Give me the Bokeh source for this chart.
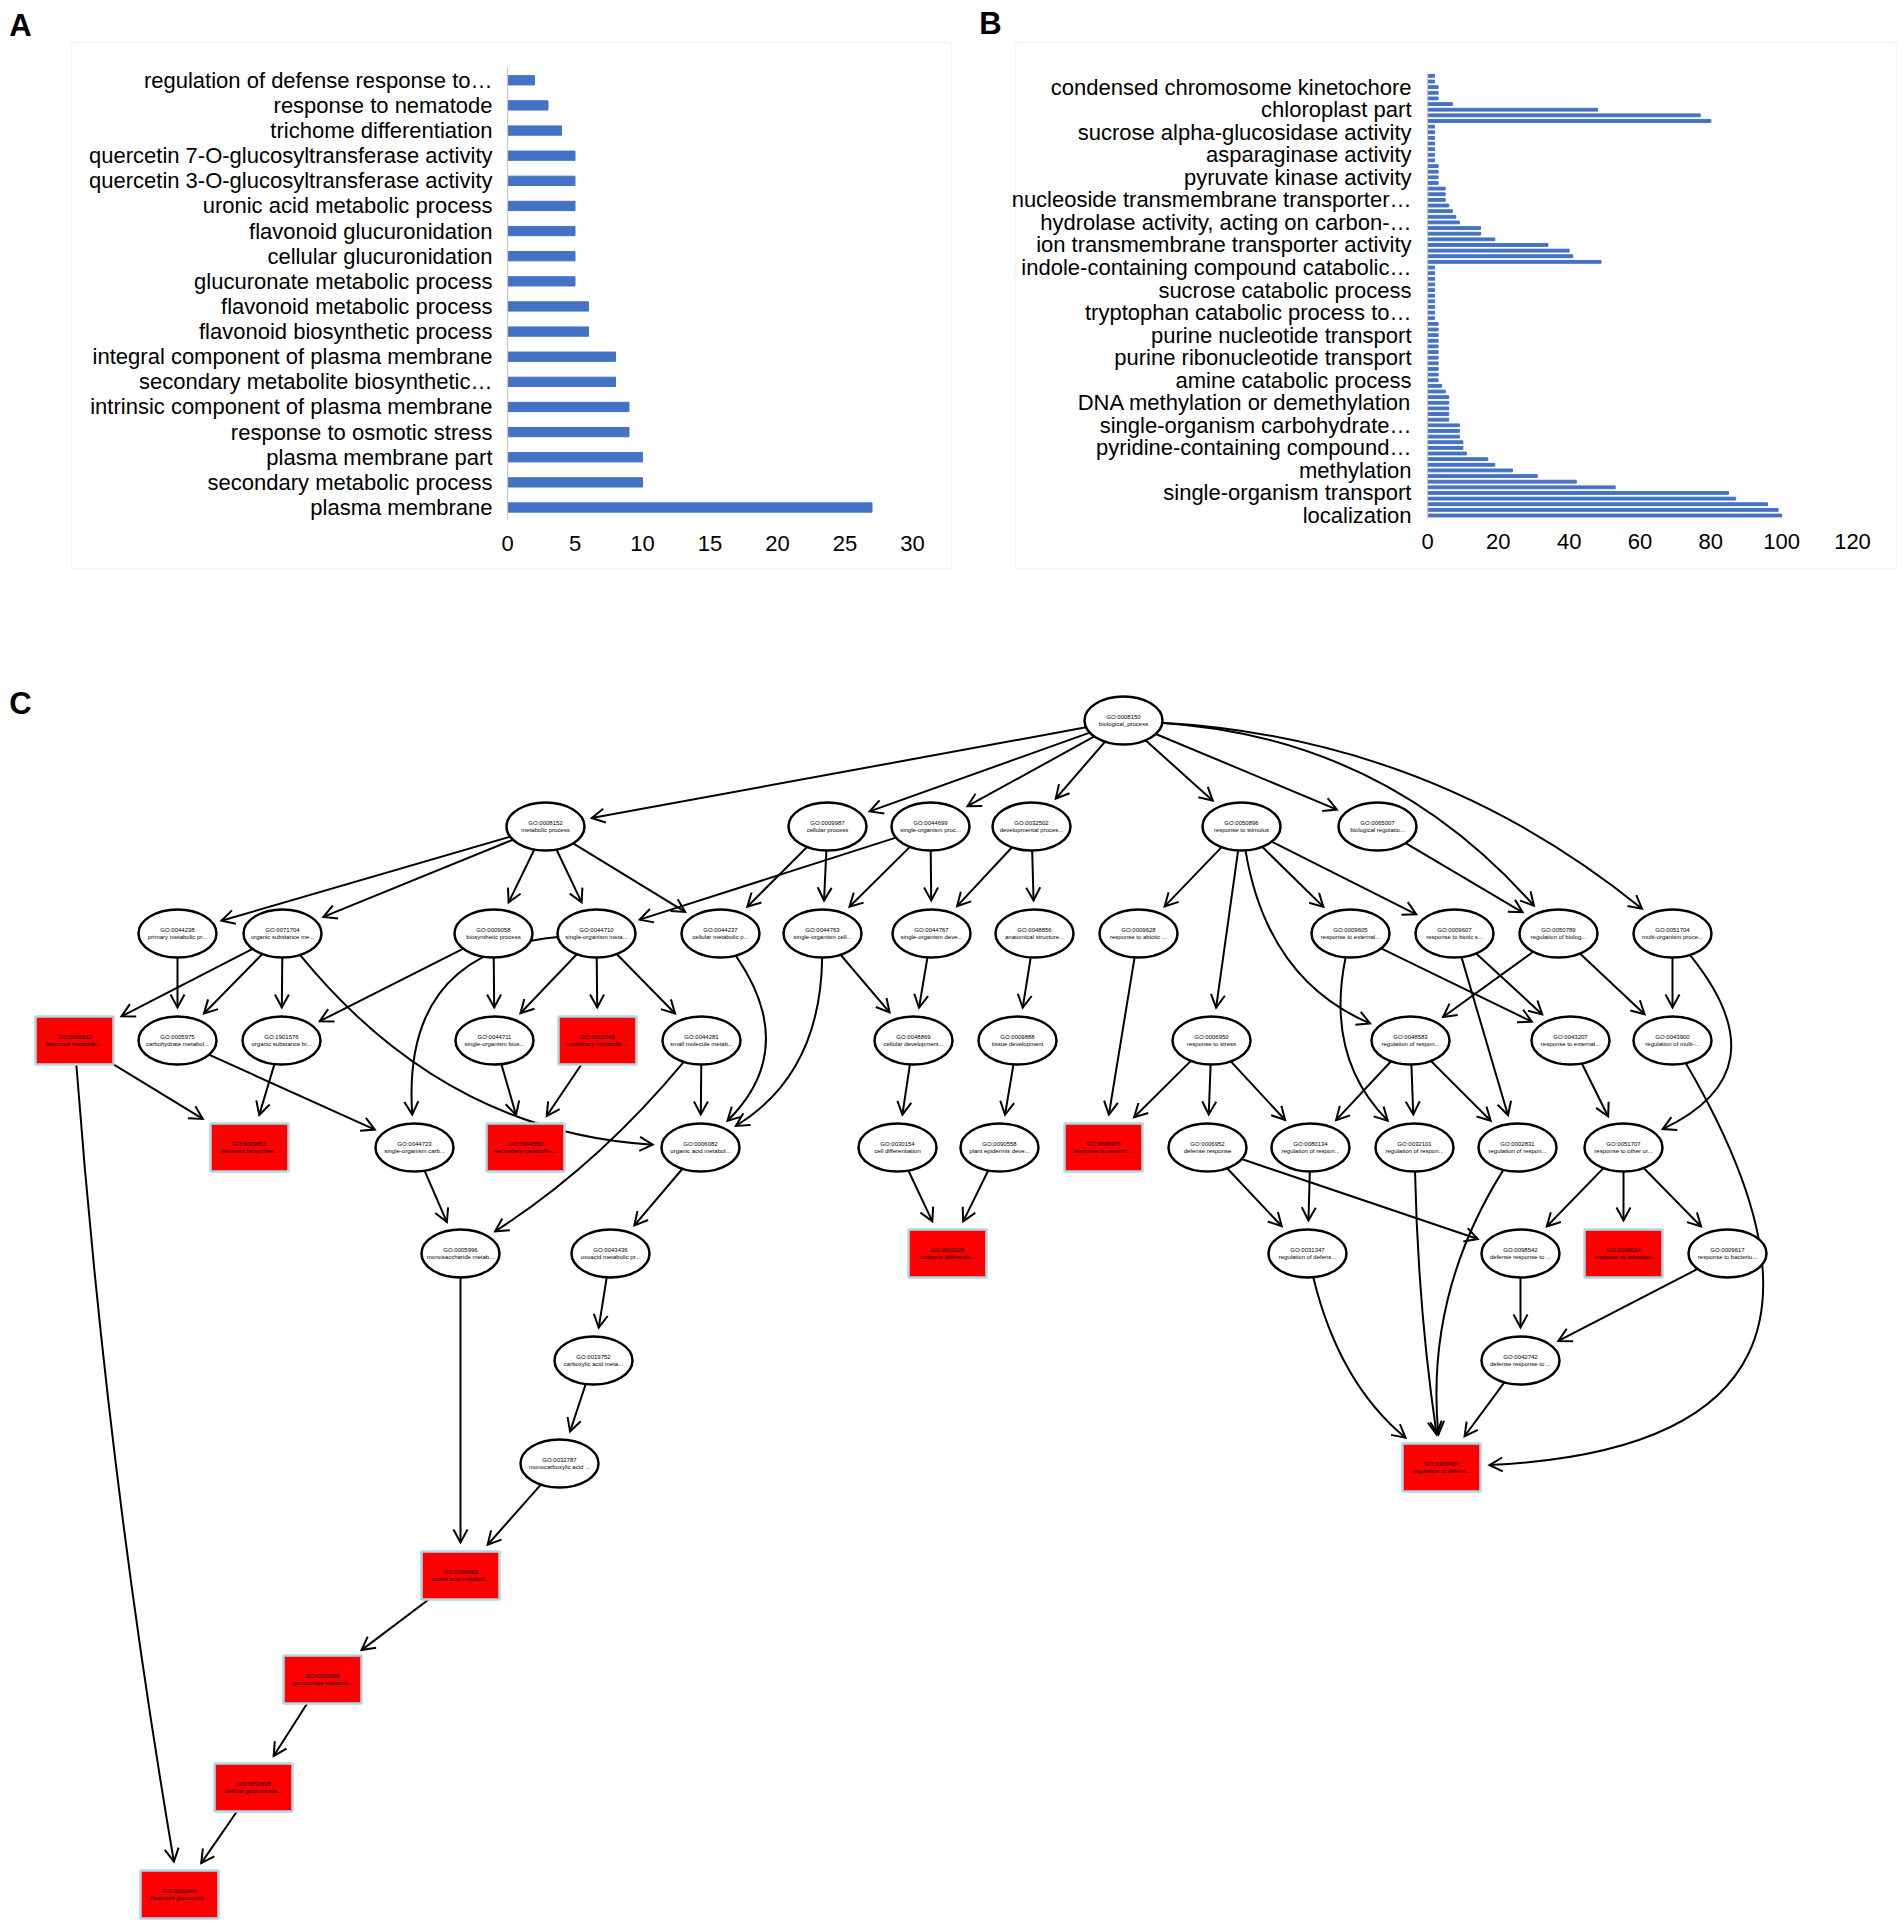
import math
from bokeh.plotting import figure
from bokeh.models import Range1d, FixedTicker, Label, BoxAnnotation
from bokeh.layouts import column, row
from bokeh.embed import file_html
from bokeh.resources import INLINE
from bokeh.core.properties import value

FONT = "Liberation Sans"
BAR_BLUE = "#4472C4"
LETTER_SIZE = "31px"

# ---------------- Panel A data (top to bottom as read) ----------------
a_terms = [
    "regulation of defense response to…",
    "response to nematode",
    "trichome differentiation",
    "quercetin 7-O-glucosyltransferase activity",
    "quercetin 3-O-glucosyltransferase activity",
    "uronic acid metabolic process",
    "flavonoid glucuronidation",
    "cellular glucuronidation",
    "glucuronate metabolic process",
    "flavonoid metabolic process",
    "flavonoid biosynthetic process",
    "integral component of plasma membrane",
    "secondary metabolite biosynthetic…",
    "intrinsic component of plasma membrane",
    "response to osmotic stress",
    "plasma membrane part",
    "secondary metabolic process",
    "plasma membrane",
]
a_counts = [2, 3, 4, 5, 5, 5, 5, 5, 5, 6, 6, 8, 8, 9, 9, 10, 10, 27]
a_xticks = [0, 5, 10, 15, 20, 25, 30]

# ---------------- Panel B data (79 bars, top to bottom) ----------------
b_counts = [
    2, 2, 3, 3, 3, 7, 48, 77, 80,
    2, 2, 2, 2, 2, 2, 2,
    3, 3, 3, 3,
    5, 5, 5, 6, 7, 8, 9, 15, 15, 19, 34, 40, 41, 49,
    2, 2, 2, 2, 2, 2, 2, 2, 2, 2,
    3, 3, 3, 3, 3, 3, 3, 3, 3, 3, 3,
    4, 5, 6, 6, 6, 6, 6,
    9, 9, 9, 10, 10, 11, 17, 19, 24, 31, 42, 53, 85, 87, 96, 99, 100,
]
# category labels shown on the axis (every 4th category, starting at the 3rd from top)
b_tick_terms = [
    "condensed chromosome kinetochore",
    "chloroplast part",
    "sucrose alpha-glucosidase activity",
    "asparaginase activity",
    "pyruvate kinase activity",
    "nucleoside transmembrane transporter…",
    "hydrolase activity, acting on carbon-…",
    "ion transmembrane transporter activity",
    "indole-containing compound catabolic…",
    "sucrose catabolic process",
    "tryptophan catabolic process to…",
    "purine nucleotide transport",
    "purine ribonucleotide transport",
    "amine catabolic process",
    "DNA methylation or demethylation",
    "single-organism carbohydrate…",
    "pyridine-containing compound…",
    "methylation",
    "single-organism transport",
    "localization",
]
b_xticks = [0, 20, 40, 60, 80, 100, 120]

# ---------------- Panel C data: GO DAG ----------------
go_ids = [
    "GO:0008150", "GO:0008152", "GO:0009987", "GO:0044699", "GO:0032502", "GO:0050896", "GO:0065007",
    "GO:0044238", "GO:0071704", "GO:0009058", "GO:0044710", "GO:0044237", "GO:0044763", "GO:0044767",
    "GO:0048856", "GO:0009628", "GO:0009605", "GO:0009607", "GO:0050789", "GO:0051704",
    "GO:0009812", "GO:0005975", "GO:1901576", "GO:0044711", "GO:0019748", "GO:0044281", "GO:0048869",
    "GO:0009888", "GO:0006950", "GO:0048583", "GO:0043207", "GO:0043900",
    "GO:0009813", "GO:0044723", "GO:0044550", "GO:0006082", "GO:0030154", "GO:0090558", "GO:0006970",
    "GO:0006952", "GO:0080134", "GO:0032101", "GO:0002831", "GO:0051707",
    "GO:0005996", "GO:0043436", "GO:0010026", "GO:0031347", "GO:0098542", "GO:0009624", "GO:0009617",
    "GO:0019752", "GO:0042742", "GO:0032787", "GO:1900424",
    "GO:0006063", "GO:0019585", "GO:0052695", "GO:0052696",
]
go_names = [
    "biological_process", "metabolic process", "cellular process", "single-organism proc...",
    "developmental proces...", "response to stimulus", "biological regulatio...",
    "primary metabolic pr...", "organic substance me...", "biosynthetic process", "single-organism meta...",
    "cellular metabolic p...", "single-organism cell...", "single-organism deve...",
    "anatomical structure...", "response to abiotic ...", "response to external...", "response to biotic s...",
    "regulation of biolog...", "multi-organism proce...",
    "flavonoid metabolic ...", "carbohydrate metabol...", "organic substance bi...", "single-organism bios...",
    "secondary metabolic ...", "small molecule metab...", "cellular development...",
    "tissue development", "response to stress", "regulation of respon...", "response to external...",
    "regulation of multi-...",
    "flavonoid biosynthet...", "single-organism carb...", "secondary metabolite...", "organic acid metabol...",
    "cell differentiation", "plant epidermis deve...", "response to osmotic ...",
    "defense response", "regulation of respon...", "regulation of respon...", "regulation of respon...",
    "response to other or...",
    "monosaccharide metab...", "oxoacid metabolic pr...", "trichome differentia...", "regulation of defens...",
    "defense response to ...", "response to nematode", "response to bacteriu...",
    "carboxylic acid meta...", "defense response to ...", "monocarboxylic acid ...", "regulation of defens...",
    "uronic acid metaboli...", "glucuronate metaboli...", "cellular glucuronida...", "flavonoid glucuronid...",
]
# 1 = significant term (drawn as red box)
go_signif = [
    0, 0, 0, 0, 0, 0, 0,
    0, 0, 0, 0, 0, 0, 0, 0, 0, 0, 0, 0, 0,
    1, 0, 0, 0, 1, 0, 0, 0, 0, 0, 0, 0,
    1, 0, 1, 0, 0, 0, 1, 0, 0, 0, 0, 0,
    0, 0, 1, 0, 0, 1, 0,
    0, 0, 0, 1,
    1, 1, 1, 1,
]
# graph layout (page pixels)
node_x = [
    1123, 545, 827, 930, 1031, 1241, 1377,
    177, 282, 493, 596, 720, 822, 931, 1034, 1138, 1350, 1454, 1558, 1672,
    74, 177, 281, 494, 597, 701, 913, 1017, 1211, 1410, 1570, 1672,
    249, 414, 525, 700, 897, 999, 1103, 1207, 1310, 1414, 1517, 1623,
    460, 610, 947, 1307, 1520, 1623, 1727,
    593, 1520, 559, 1441,
    460, 322, 253, 179,
]
node_y = [
    720, 826, 826, 826, 826, 826, 826,
    933, 933, 933, 933, 933, 933, 933, 933, 933, 933, 933, 933, 933,
    1040, 1040, 1040, 1040, 1040, 1040, 1040, 1040, 1040, 1040, 1040, 1040,
    1147, 1147, 1147, 1147, 1147, 1147, 1147, 1147, 1147, 1147, 1147, 1147,
    1253, 1253, 1253, 1253, 1253, 1253, 1253,
    1360, 1360, 1463, 1467,
    1575, 1679, 1787, 1894,
]
# edges: parent, child, bend (curvature, px)
edges = [
    ("0008150", "0008152", 0), ("0008150", "0009987", 0), ("0008150", "0044699", 0),
    ("0008150", "0032502", 0), ("0008150", "0050896", 0), ("0008150", "0065007", 0),
    ("0008150", "0050789", -100), ("0008150", "0051704", -95),
    ("0008152", "0044238", 0), ("0008152", "0071704", 0), ("0008152", "0009058", 0),
    ("0008152", "0044710", 0), ("0008152", "0044237", 0),
    ("0009987", "0044237", 0), ("0009987", "0044763", 0),
    ("0044699", "0044710", 0), ("0044699", "0044763", 0), ("0044699", "0044767", 0),
    ("0032502", "0044767", 0), ("0032502", "0048856", 0),
    ("0050896", "0009628", 0), ("0050896", "0006950", 0), ("0050896", "0048583", 75),
    ("0050896", "0009605", 0), ("0050896", "0009607", 0),
    ("0065007", "0050789", 0),
    ("0044238", "0005975", 0),
    ("0071704", "0009812", 0), ("0071704", "0005975", 0), ("0071704", "1901576", 0),
    ("0071704", "0006082", 103),
    ("0009058", "1901576", 0), ("0009058", "0044711", 0),
    ("0044710", "0044723", 137), ("0044710", "0044711", 0), ("0044710", "0019748", 0),
    ("0044710", "0044281", 0),
    ("0044237", "0006082", -90),
    ("0044763", "0048869", 0), ("0044763", "0006082", -68),
    ("0044767", "0048869", 0), ("0048856", "0009888", 0),
    ("0009628", "0006970", 0),
    ("0009605", "0032101", 60), ("0009605", "0043207", 0),
    ("0009607", "0043207", 0), ("0009607", "0002831", 0),
    ("0050789", "0048583", 0), ("0050789", "0043900", 0),
    ("0051704", "0043900", 0), ("0051704", "0051707", -140),
    ("0009812", "0009813", 0), ("0009812", "0052696", 20),
    ("0005975", "0044723", 0), ("1901576", "0009813", 0),
    ("0044711", "0044550", 0), ("0019748", "0044550", 0),
    ("0044281", "0006082", 0), ("0044281", "0005996", -25),
    ("0048869", "0030154", 0), ("0009888", "0090558", 0),
    ("0006950", "0006970", 0), ("0006950", "0006952", 0), ("0006950", "0080134", 0),
    ("0048583", "0080134", 0), ("0048583", "0032101", 0), ("0048583", "0002831", 0),
    ("0043207", "0051707", 0),
    ("0043900", "1900424", -400),
    ("0044723", "0005996", 0), ("0006082", "0043436", 0),
    ("0030154", "0010026", 0), ("0090558", "0010026", 0),
    ("0006952", "0031347", 0), ("0006952", "0098542", 0),
    ("0080134", "0031347", 0),
    ("0032101", "1900424", 10), ("0002831", "1900424", 56),
    ("0051707", "0098542", 0), ("0051707", "0009624", 0), ("0051707", "0009617", 0),
    ("0005996", "0006063", 0), ("0043436", "0019752", 0),
    ("0031347", "1900424", 42),
    ("0098542", "0042742", 0), ("0009617", "0042742", 0),
    ("0019752", "0032787", 0), ("0042742", "1900424", 0),
    ("0032787", "0006063", 0), ("0006063", "0019585", 0),
    ("0019585", "0052695", 0), ("0052695", "0052696", 0),
]


# ---------------- bar panel builder ----------------
TOP_H = 598  # height of the top row (page px)


def bar_panel(left_px, width_px, zero_px, px_per_unit, base_py, px_per_cat,
              box, n_cats, xticks, tick_pos, tick_text, y_standoff, letter, letter_xy):
    # page -> data mapping for this canvas (frame == whole canvas)
    fx = lambda px: (px - zero_px) / px_per_unit
    fy = lambda py: (base_py - py) / px_per_cat
    p = figure(width=width_px, height=TOP_H, output_backend="svg", toolbar_location=None,
               x_range=Range1d(fx(left_px), fx(left_px + width_px)),
               y_range=Range1d(fy(TOP_H), fy(0)), min_border=0)
    p.xgrid.visible = False
    p.ygrid.visible = False
    p.outline_line_color = None
    p.background_fill_color = "white"
    p.border_fill_color = "white"
    bl, bt, br, bb = box
    p.add_layout(BoxAnnotation(left=fx(bl), right=fx(br), top=fy(bt), bottom=fy(bb),
                               fill_alpha=0, line_color="#d9d9d9", line_width=1.5, level="underlay"))
    xa = p.xaxis[0]
    ya = p.yaxis[0]
    xa.fixed_location = -0.5
    ya.fixed_location = 0
    xa.ticker = FixedTicker(ticks=xticks)
    xa.axis_line_color = None
    xa.major_tick_line_color = None
    xa.minor_tick_line_color = None
    xa.major_label_standoff = 10
    xa.major_label_text_font = FONT
    xa.major_label_text_font_size = "22px"
    xa.major_label_text_color = "#000000"
    ya.ticker = FixedTicker(ticks=tick_pos)
    ya.major_label_overrides = {int(k): t for k, t in zip(tick_pos, tick_text)}
    ya.bounds = (-0.5, n_cats - 0.5)
    ya.axis_line_color = "#c8c8c8"
    ya.axis_line_width = 1.2
    ya.major_tick_line_color = None
    ya.minor_tick_line_color = None
    ya.major_label_standoff = y_standoff
    ya.major_label_text_font = FONT
    ya.major_label_text_font_size = "22px"
    ya.major_label_text_color = "#000000"
    p.add_layout(Label(x=fx(letter_xy[0]), y=fy(letter_xy[1]), text=letter,
                       text_font=FONT, text_font_size=LETTER_SIZE, text_font_style="bold",
                       text_align="center", text_baseline="middle", text_color="black"))
    return p


# ---------------- Panel A ----------------
nA = len(a_terms)
a_pos = [nA - 1 - i for i in range(nA)]  # top item gets highest index
pA = bar_panel(0, 978, 507, 13.5, 507, 25.13, (71, 42, 951, 568), nA,
               a_xticks, a_pos, a_terms, 9, "A", (20, 25))
pA.hbar(y=a_pos, right=a_counts, left=0, height=0.37, color=BAR_BLUE)

# ---------------- Panel B ----------------
nB = len(b_counts)
b_pos = [nB - 1 - i for i in range(nB)]
b_tick_pos = [nB - 1 - (2 + 4 * k) for k in range(len(b_tick_terms))]
pB = bar_panel(978, 926, 1427, 3.5417, 515, 5.636, (1015, 42, 1896, 568), nB,
               b_xticks, b_tick_pos, b_tick_terms, 10, "B", (990, 23))
pB.hbar(y=b_pos, right=b_counts, left=0, height=0.5, color=BAR_BLUE)

# ---------------- Panel C ----------------
C_BOTTOM = 1923
pC = figure(width=1904, height=C_BOTTOM - TOP_H, output_backend="svg", toolbar_location=None,
            x_range=Range1d(0, 1904), y_range=Range1d(C_BOTTOM, TOP_H),
            x_axis_type=None, y_axis_type=None, min_border=0)
pC.xgrid.visible = False
pC.ygrid.visible = False
pC.outline_line_color = None
pC.background_fill_color = "white"
pC.border_fill_color = "white"

NODE_W, NODE_H = 78, 48
GAP, AL, AW = 9, 13, 7
idx = {g.split(":")[1]: i for i, g in enumerate(go_ids)}


def boundary(i, ux, uy):
    cx, cy = node_x[i], node_y[i]
    hw, hh = NODE_W / 2, NODE_H / 2
    if go_signif[i]:
        tx = hw / abs(ux) if abs(ux) > 1e-9 else 1e9
        ty = hh / abs(uy) if abs(uy) > 1e-9 else 1e9
        t = min(tx, ty)
    else:
        t = 1.0 / math.sqrt((ux / hw) ** 2 + (uy / hh) ** 2)
    return cx + ux * t, cy + uy * t


def unit(dx, dy):
    L = math.hypot(dx, dy)
    return dx / L, dy / L


qx0, qy0, qx1, qy1, qcx, qcy = [], [], [], [], [], []
ah_xs, ah_ys = [], []
for s, t, bend in edges:
    i, j = idx[s], idx[t]
    sx, sy, tx, ty = node_x[i], node_y[i], node_x[j], node_y[j]
    dx, dy = unit(tx - sx, ty - sy)
    px, py = -dy, dx
    mx = (sx + tx) / 2 + bend * px
    my = (sy + ty) / 2 + bend * py
    ux, uy = unit(mx - sx, my - sy)
    x0, y0 = boundary(i, ux, uy)
    vx, vy = unit(mx - tx, my - ty)
    bx, by = boundary(j, vx, vy)
    tipx, tipy = bx + vx * GAP, by + vy * GAP
    qx0.append(x0); qy0.append(y0); qx1.append(tipx); qy1.append(tipy)
    qcx.append(mx); qcy.append(my)
    ah_xs.append([tipx + vx * AL - vy * AW, tipx, tipx + vx * AL + vy * AW])
    ah_ys.append([tipy + vy * AL + vx * AW, tipy, tipy + vy * AL - vx * AW])

pC.quadratic(x0=qx0, y0=qy0, x1=qx1, y1=qy1, cx=qcx, cy=qcy, line_color="black", line_width=2)
pC.multi_line(xs=ah_xs, ys=ah_ys, line_color="black", line_width=2, line_join="miter")

ell = [i for i in range(len(go_ids)) if not go_signif[i]]
red = [i for i in range(len(go_ids)) if go_signif[i]]
pC.ellipse(x=[node_x[i] for i in ell], y=[node_y[i] for i in ell], width=NODE_W, height=NODE_H,
           fill_color="white", line_color="black", line_width=2.5)
pC.rect(x=[node_x[i] for i in red], y=[node_y[i] for i in red], width=NODE_W, height=NODE_H,
        fill_color="#FF0000", line_color="#ADD8E6", line_width=2.5)

pC.text(x=node_x, y=[y - 4 for y in node_y], text=go_ids, text_font=value(FONT),
        text_font_size=value("6px"), text_align="center", text_baseline="middle", text_color="black")
pC.text(x=node_x, y=[y + 3.5 for y in node_y], text=go_names, text_font=value(FONT),
        text_font_size=value("6px"), text_align="center", text_baseline="middle", text_color="black")
pC.add_layout(Label(x=20, y=703, text="C", text_font=FONT, text_font_size=LETTER_SIZE,
                    text_font_style="bold", text_align="center", text_baseline="middle",
                    text_color="black"))

layout = column(row(pA, pB), pC)
open("out.html", "w").write(file_html(layout, INLINE))
